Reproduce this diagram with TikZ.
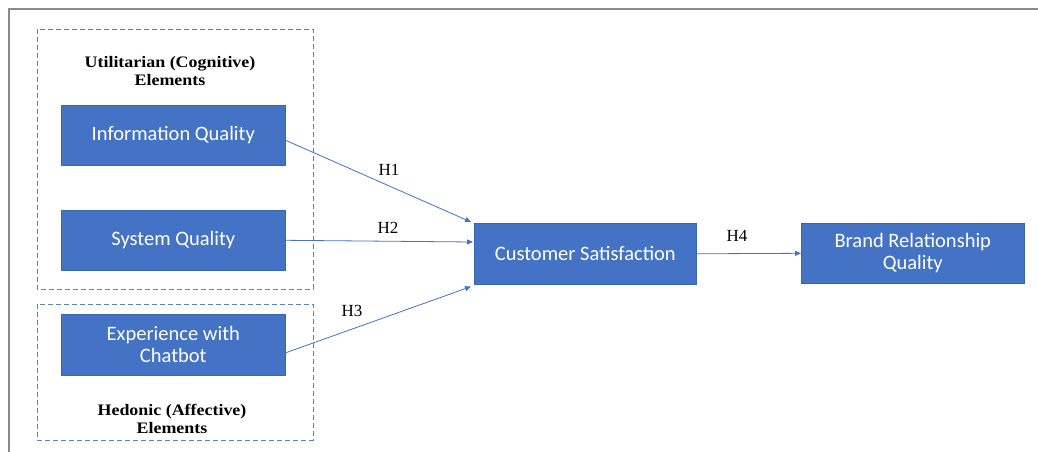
\documentclass[tikz,border=0pt]{standalone}
\usepackage{fontspec}
\setmainfont{Liberation Serif}
\newfontfamily\calibri{Carlito}
\newfontfamily\widserif[FakeStretch=1.12]{Liberation Serif}
\usetikzlibrary{arrows.meta,calc}
\definecolor{boxblue}{HTML}{4472C4}
\definecolor{boxedge}{HTML}{3A64B0}
\definecolor{dashblue}{HTML}{5B7FC4}
\definecolor{framegray}{HTML}{8A8A8A}
\tikzset{
  x=1pt, y=-1pt,
  varbox/.style={draw=boxedge, line width=0.6pt, fill=boxblue, text=white, font=\calibri\fontsize{20.5}{22}\selectfont,
    anchor=north west, inner sep=0pt, minimum width=224pt, minimum height=60pt, align=center},
  groupbox/.style={draw=dashblue, line width=0.9pt, dash pattern=on 5pt off 3pt},
  grouplabel/.style={font=\widserif\bfseries\fontsize{16}{18}\selectfont, align=center},
  hlabel/.style={font=\fontsize{17}{18}\selectfont},
  link/.style={draw=boxblue, line width=0.8pt, -{Triangle[length=6pt,width=5pt]}}
}
\begin{document}
\begin{tikzpicture}
\useasboundingbox (0,0) rectangle (1038,452);
% frame
\coordinate (ftr) at (1038,9);
\coordinate (ftl) at (9,9);
\coordinate (fbl) at (9,452);
\draw[framegray, line width=1.5pt] (ftr) -- (ftl) -- (fbl);
% groups
\draw[groupbox] (37,29) rectangle (313,289);
\draw[groupbox] (37,304) rectangle (313,440);
\node[grouplabel] (ulab) at (170,71) {Utilitarian (Cognitive)\\Elements};
\node[grouplabel] (hlab) at (172,419) {Hedonic (Affective)\\Elements};
% boxes
\node[varbox] (iq) at (61,105) {Information Quality};
\node[varbox] (sq) at (61,210) {System Quality};
\node[varbox, minimum height=61pt] (ex) at (61,314) {Experience with\\Chatbot};
\node[varbox, minimum width=222pt, minimum height=61pt] (cs) at (474,223) {Customer Satisfaction};
\node[varbox, minimum width=223pt, minimum height=60pt] (br) at (801,223) {Brand Relationship\\Quality};
% endpoints
\coordinate (e1) at ($(cs.north west)+(-3,-1)$);
\coordinate (e2) at ($(cs.north west)+(-1,19)$);
\coordinate (e3) at ($(cs.south west)+(-3,2)$);
% links
\draw[link] (iq.east) ++(0,5) coordinate (s1) (s1) -- (e1);
\draw[link] (sq.east) coordinate (s2) (s2) -- (e2);
\draw[link] (ex.east) ++(0,8) coordinate (s3) (s3) -- (e3);
\draw[link] (cs.east) -- (br.west);
% labels
\node[hlabel] (h1) at (389,170) {H1};
\node[hlabel] (h2) at (388,228) {H2};
\node[hlabel] (h3) at (352,311) {H3};
\node[hlabel] (h4) at (737,236) {H4};
\end{tikzpicture}
\end{document}
